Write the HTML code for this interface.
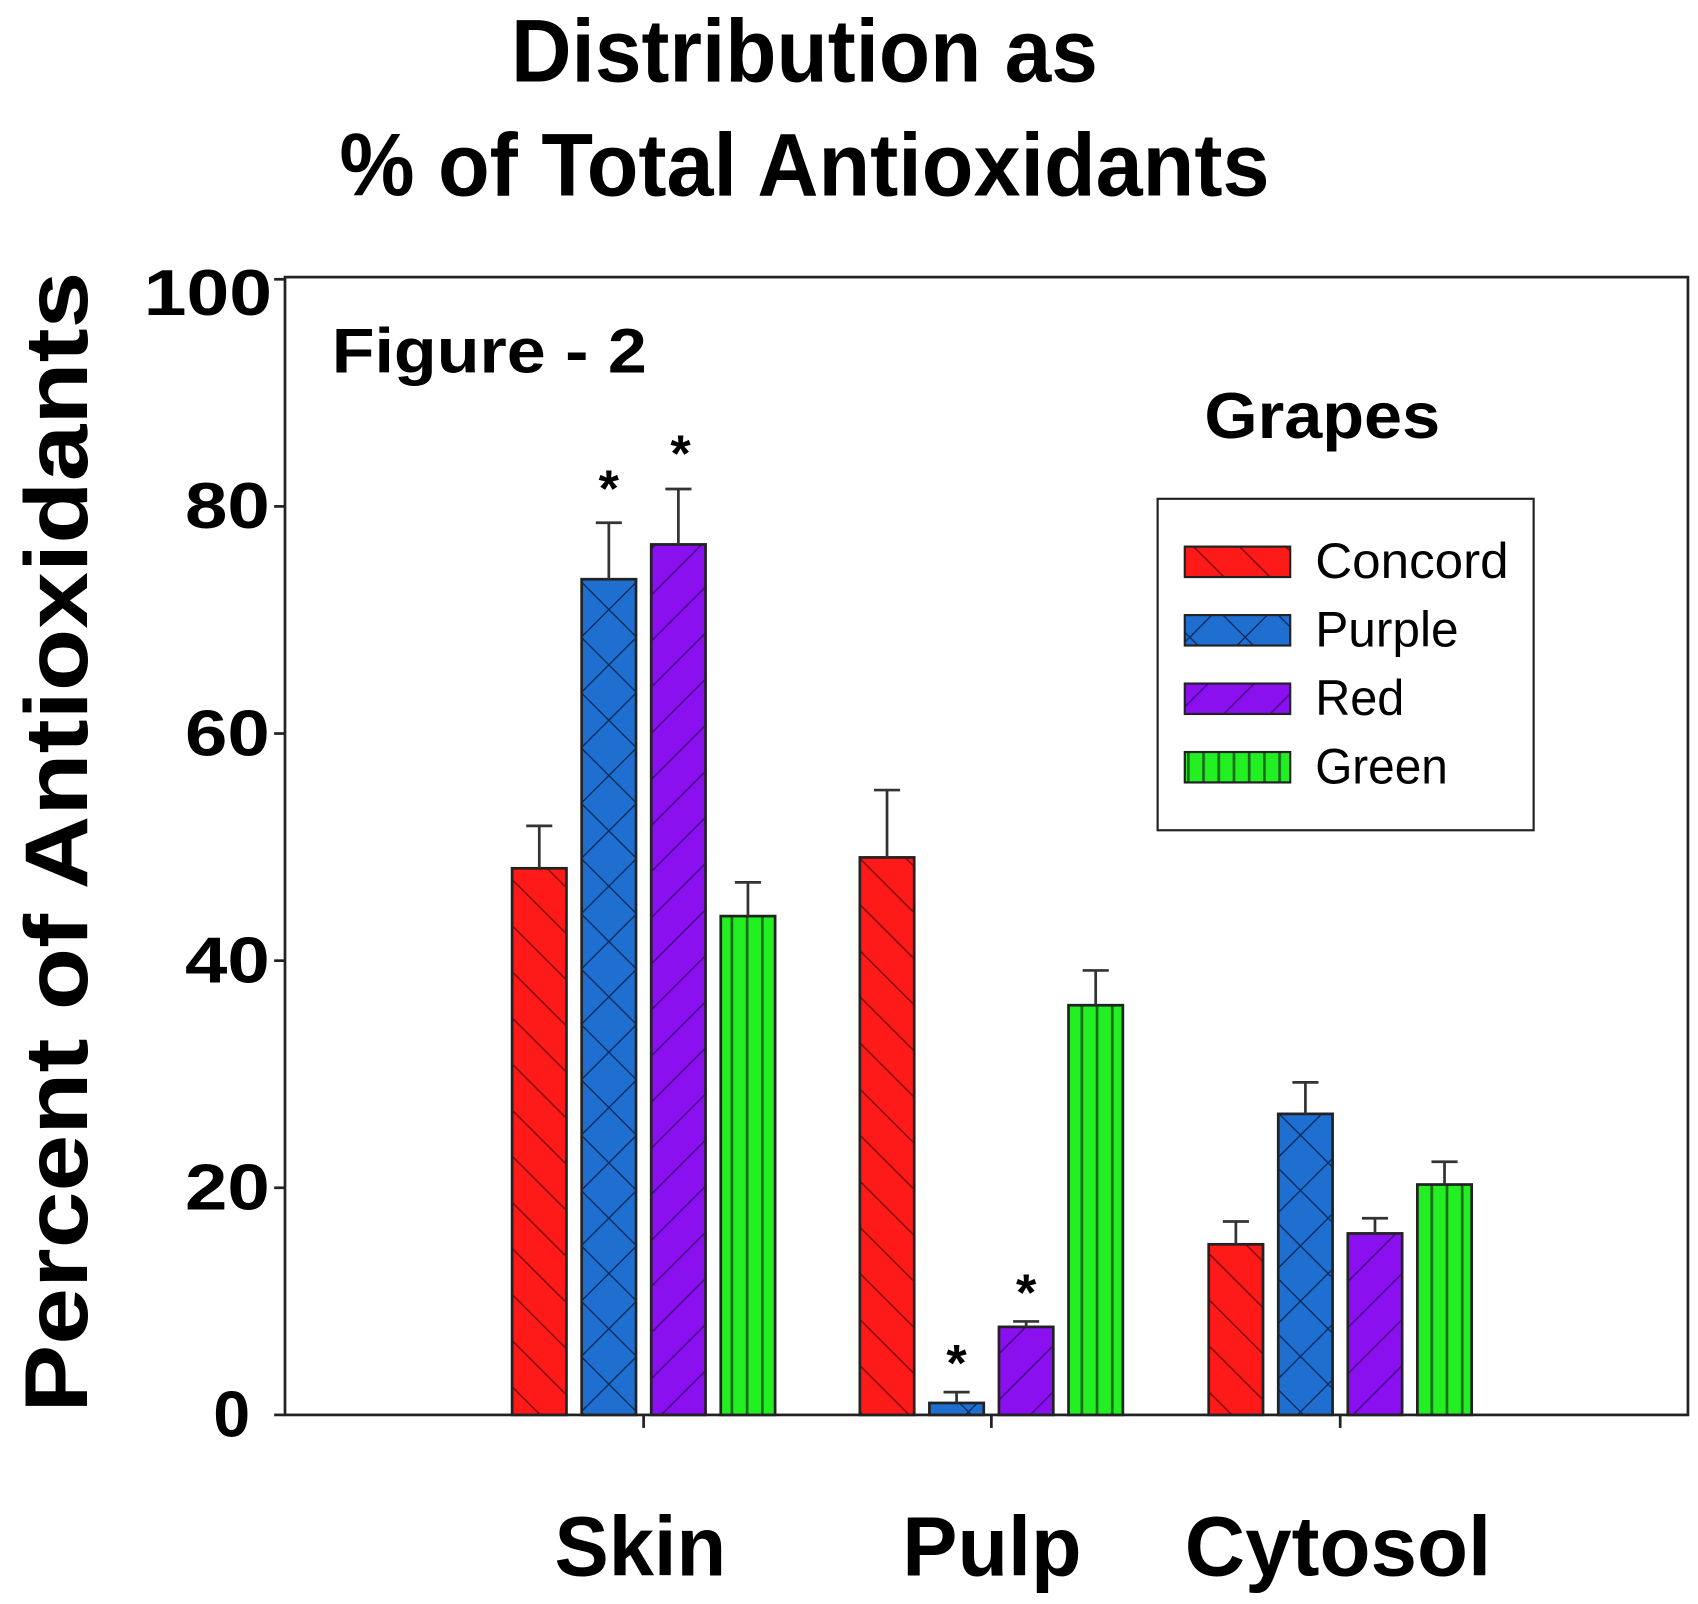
<!DOCTYPE html>
<html><head><meta charset="utf-8"><style>
html,body{margin:0;padding:0;background:#fff;}
svg{display:block;}
text{font-family:"Liberation Sans",Arial,sans-serif;font-weight:bold;fill:#000;}
</style></head><body>
<svg width="1698" height="1604" viewBox="0 0 1562 1476" xmlns="http://www.w3.org/2000/svg">
<defs>
<pattern id="pr" patternUnits="userSpaceOnUse" width="30" height="30" patternTransform="rotate(-45)">
<rect width="30" height="30" fill="#ff1a1a"/><line x1="0" y1="0" x2="0" y2="30" stroke="#8a0a0a" stroke-width="3"/></pattern>
<pattern id="pb" patternUnits="userSpaceOnUse" width="36" height="36" patternTransform="rotate(45)">
<rect width="36" height="36" fill="#1f6fd0"/><line x1="0" y1="0" x2="0" y2="36" stroke="#0a2a5a" stroke-width="2.5"/><line x1="0" y1="0" x2="36" y2="0" stroke="#0a2a5a" stroke-width="2.5"/></pattern>
<pattern id="pp" patternUnits="userSpaceOnUse" width="30" height="30" patternTransform="rotate(45)">
<rect width="30" height="30" fill="#8a10f0"/><line x1="0" y1="0" x2="0" y2="30" stroke="#4a0890" stroke-width="3"/></pattern>
<pattern id="pg" patternUnits="userSpaceOnUse" width="14" height="30">
<rect width="14" height="30" fill="#22f022"/><line x1="1" y1="0" x2="1" y2="30" stroke="#1a6a1a" stroke-width="3"/></pattern>
</defs>
<text x="470" y="75" font-size="82" textLength="540" lengthAdjust="spacingAndGlyphs">Distribution as</text>
<text x="312" y="180" font-size="82" textLength="856" lengthAdjust="spacingAndGlyphs">% of Total Antioxidants</text>
<text transform="translate(80,1300) rotate(-90)" font-size="82" textLength="1050" lengthAdjust="spacingAndGlyphs">Percent  of  Antioxidants</text>
<rect x="262" y="255" width="1291" height="1047" fill="none" stroke="#222" stroke-width="2.5"/>
<g stroke="#222" stroke-width="2.5">
<line x1="252" y1="1302" x2="262" y2="1302"/><line x1="252" y1="1093" x2="262" y2="1093"/><line x1="252" y1="884" x2="262" y2="884"/><line x1="252" y1="675" x2="262" y2="675"/><line x1="252" y1="466" x2="262" y2="466"/><line x1="252" y1="257" x2="262" y2="257"/>
<line x1="592" y1="1302" x2="592" y2="1314"/><line x1="912" y1="1302" x2="912" y2="1314"/><line x1="1233" y1="1302" x2="1233" y2="1314"/>
</g>
<g font-size="60">
<text x="196" y="1322" textLength="34" lengthAdjust="spacingAndGlyphs">0</text>
<text x="170" y="1113" textLength="78" lengthAdjust="spacingAndGlyphs">20</text>
<text x="170" y="904" textLength="78" lengthAdjust="spacingAndGlyphs">40</text>
<text x="170" y="695" textLength="78" lengthAdjust="spacingAndGlyphs">60</text>
<text x="170" y="486" textLength="78" lengthAdjust="spacingAndGlyphs">80</text>
<text x="132" y="290" textLength="118" lengthAdjust="spacingAndGlyphs">100</text>
</g>
<text x="305" y="343" font-size="58" textLength="290" lengthAdjust="spacingAndGlyphs">Figure - 2</text>
<text x="1108" y="403" font-size="60" textLength="217" lengthAdjust="spacingAndGlyphs">Grapes</text>
<rect x="1065" y="459" width="346" height="305" fill="#fff" stroke="#222" stroke-width="2"/>
<g stroke="#222" stroke-width="2">
<rect x="1090" y="503" width="97" height="28" fill="url(#pr)"/>
<rect x="1090" y="566" width="97" height="28" fill="url(#pb)"/>
<rect x="1090" y="629" width="97" height="28" fill="url(#pp)"/>
<rect x="1090" y="692" width="97" height="28" fill="url(#pg)"/>
</g>
<g font-size="46">
<text x="1210" y="532" textLength="178" lengthAdjust="spacingAndGlyphs" style="font-weight:normal">Concord</text>
<text x="1210" y="595" textLength="132" lengthAdjust="spacingAndGlyphs" style="font-weight:normal">Purple</text>
<text x="1210" y="658" textLength="82" lengthAdjust="spacingAndGlyphs" style="font-weight:normal">Red</text>
<text x="1210" y="721" textLength="122" lengthAdjust="spacingAndGlyphs" style="font-weight:normal">Green</text>
</g>
<g stroke="#222" stroke-width="2.5">
<rect x="471" y="799" width="50" height="503" fill="url(#pr)"/>
<rect x="535" y="533" width="50" height="769" fill="url(#pb)"/>
<rect x="599" y="501" width="50" height="801" fill="url(#pp)"/>
<rect x="663" y="843" width="50" height="459" fill="url(#pg)"/>
<rect x="791" y="789" width="50" height="513" fill="url(#pr)"/>
<rect x="855" y="1291" width="50" height="11" fill="url(#pb)"/>
<rect x="919" y="1221" width="50" height="81" fill="url(#pp)"/>
<rect x="983" y="925" width="50" height="377" fill="url(#pg)"/>
<rect x="1112" y="1145" width="50" height="157" fill="url(#pr)"/>
<rect x="1176" y="1025" width="50" height="277" fill="url(#pb)"/>
<rect x="1240" y="1135" width="50" height="167" fill="url(#pp)"/>
<rect x="1304" y="1090" width="50" height="212" fill="url(#pg)"/>
</g>
<g stroke="#333" stroke-width="2.5" fill="none">
<path d="M496 799V760M484 760H508"/>
<path d="M560 533V481M548 481H572"/>
<path d="M624 501V450M612 450H636"/>
<path d="M688 843V812M676 812H700"/>
<path d="M816 789V727M804 727H828"/>
<path d="M880 1291V1281M868 1281H892"/>
<path d="M944 1221V1216M932 1216H956"/>
<path d="M1008 925V893M996 893H1020"/>
<path d="M1137 1145V1124M1125 1124H1149"/>
<path d="M1201 1025V996M1189 996H1213"/>
<path d="M1265 1135V1121M1253 1121H1277"/>
<path d="M1329 1090V1069M1317 1069H1341"/>
</g>
<g font-size="48" text-anchor="middle">
<text x="560" y="466">*</text><text x="626" y="434">*</text>
<text x="880" y="1271">*</text><text x="944" y="1206">*</text>
</g>
<g font-size="78">
<text x="510" y="1450" textLength="158" lengthAdjust="spacingAndGlyphs">Skin</text>
<text x="830" y="1450" textLength="165" lengthAdjust="spacingAndGlyphs">Pulp</text>
<text x="1090" y="1450" textLength="282" lengthAdjust="spacingAndGlyphs">Cytosol</text>
</g>
</svg>
</body></html>
